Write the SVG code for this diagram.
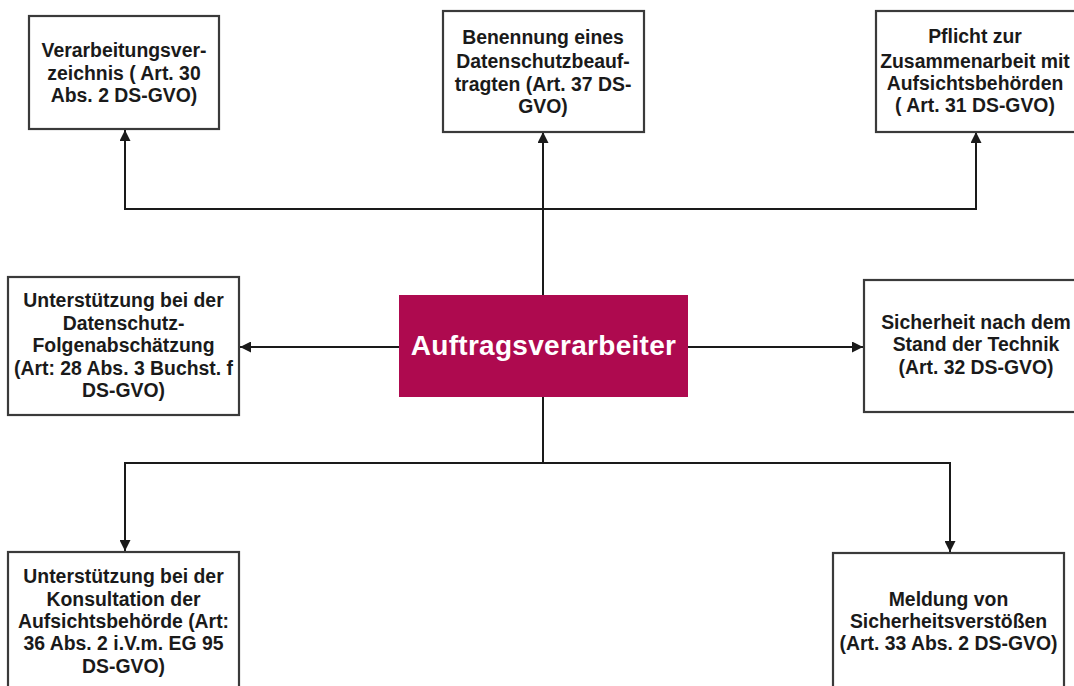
<svg xmlns="http://www.w3.org/2000/svg" width="1074" height="686" viewBox="0 0 1074 686">
<style>
.box{fill:#fff;stroke:#3a3a3a;stroke-width:2.2}
.t{font-family:"Liberation Sans",Arial,sans-serif;font-weight:bold;font-size:19.4px;fill:#1a1a1a;text-anchor:middle}
.c{fill:none;stroke:#1a1a1a;stroke-width:2}
.main{fill:#AE0A4F}
.mt{font-family:"Liberation Sans",Arial,sans-serif;font-weight:bold;font-size:28px;fill:#fff;text-anchor:middle;letter-spacing:0.3px}
</style>
<defs>
<marker id="ah" viewBox="0 0 10 10" refX="10" refY="5" markerWidth="11" markerHeight="11" markerUnits="userSpaceOnUse" orient="auto">
<path d="M0,0 L10,5 L0,10 z" fill="#1a1a1a"/>
</marker>
</defs>
<rect width="1074" height="686" fill="#fff"/>
<g id="connectors">
<path class="c" d="M543,295 V132" marker-end="url(#ah)"/>
<path class="c" d="M543,209 H125 V130" marker-end="url(#ah)"/>
<path class="c" d="M543,209 H976 V132" marker-end="url(#ah)"/>
<path class="c" d="M399,347 H240" marker-end="url(#ah)"/>
<path class="c" d="M688,347 H863" marker-end="url(#ah)"/>
<path class="c" d="M543,397 V463 H125 V551" marker-end="url(#ah)"/>
<path class="c" d="M543,463 H950 V552" marker-end="url(#ah)"/>
</g>
<g id="n-verzeichnis">
<rect class="box" x="29" y="16" width="190" height="113"/>
<text class="t" x="124" y="57">Verarbeitungsver-</text>
<text class="t" x="124" y="80">zeichnis ( Art. 30</text>
<text class="t" x="124" y="102">Abs. 2 DS-GVO)</text>
</g>
<g id="n-dsb">
<rect class="box" x="443" y="11" width="201" height="121"/>
<text class="t" x="543" y="44">Benennung eines</text>
<text class="t" x="543" y="68">Datenschutzbeauf-</text>
<text class="t" x="543" y="91">tragten (Art. 37 DS-</text>
<text class="t" x="543" y="113">GVO)</text>
</g>
<g id="n-pflicht">
<rect class="box" x="876" y="11" width="202" height="121"/>
<text class="t" x="975" y="43">Pflicht zur</text>
<text class="t" x="975" y="68">Zusammenarbeit mit</text>
<text class="t" x="975" y="90">Aufsichtsbehörden</text>
<text class="t" x="975" y="112">( Art. 31 DS-GVO)</text>
</g>
<g id="n-dsfa">
<rect class="box" x="8" y="277" width="231" height="138"/>
<text class="t" x="123.5" y="307">Unterstützung bei der</text>
<text class="t" x="123.5" y="330">Datenschutz-</text>
<text class="t" x="123.5" y="352">Folgenabschätzung</text>
<text class="t" x="123.5" y="375">(Art: 28 Abs. 3 Buchst. f</text>
<text class="t" x="123.5" y="397">DS-GVO)</text>
</g>
<g id="n-main">
<rect class="main" x="399" y="295" width="289" height="102"/>
<text class="mt" x="543.5" y="355">Auftragsverarbeiter</text>
</g>
<g id="n-sicherheit">
<rect class="box" x="864" y="280" width="224" height="132"/>
<text class="t" x="976" y="329">Sicherheit nach dem</text>
<text class="t" x="976" y="351">Stand der Technik</text>
<text class="t" x="976" y="374">(Art. 32 DS-GVO)</text>
</g>
<g id="n-konsultation">
<rect class="box" x="8" y="552" width="231" height="150"/>
<text class="t" x="123.5" y="583">Unterstützung bei der</text>
<text class="t" x="123.5" y="606">Konsultation der</text>
<text class="t" x="123.5" y="628">Aufsichtsbehörde (Art:</text>
<text class="t" x="123.5" y="650">36 Abs. 2 i.V.m. EG 95</text>
<text class="t" x="123.5" y="673">DS-GVO)</text>
</g>
<g id="n-meldung">
<rect class="box" x="833" y="553" width="231" height="150"/>
<text class="t" x="948.5" y="606">Meldung von</text>
<text class="t" x="948.5" y="628">Sicherheitsverstößen</text>
<text class="t" x="948.5" y="650">(Art. 33 Abs. 2 DS-GVO)</text>
</g>
</svg>
